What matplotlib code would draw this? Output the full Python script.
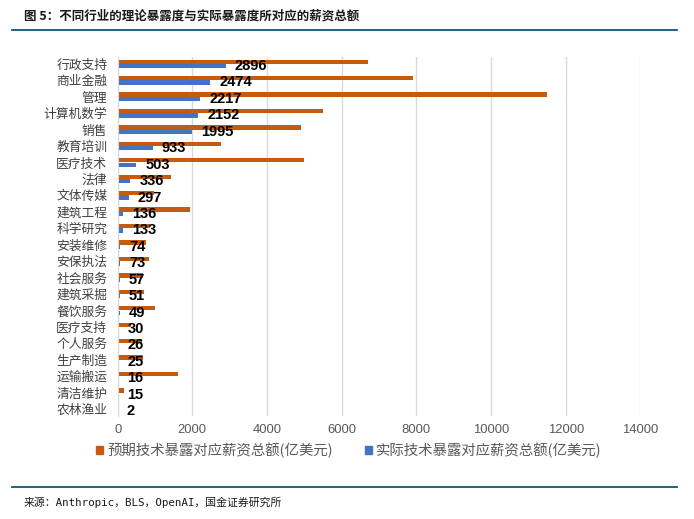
import matplotlib
matplotlib.use("Agg")
import matplotlib.pyplot as plt
from matplotlib.lines import Line2D
from matplotlib.patches import Patch
import numpy as np

plt.rcParams['font.family'] = ['Noto Sans CJK SC', 'DejaVu Sans']

categories = ["行政支持", "商业金融", "管理", "计算机数学", "销售", "教育培训", "医疗技术",
              "法律", "文体传媒", "建筑工程", "科学研究", "安装维修", "安保执法", "社会服务",
              "建筑采掘", "餐饮服务", "医疗支持", "个人服务", "生产制造", "运输搬运",
              "清洁维护", "农林渔业"]
expected = [6700, 7900, 11500, 5500, 4900, 2780, 5000, 1430, 960, 1940, 870, 750, 850, 690,
            715, 1010, 350, 660, 690, 1610, 170, 30]
actual = [2896, 2474, 2217, 2152, 1995, 933, 503, 336, 297, 136, 133, 74, 73, 57,
          51, 49, 30, 26, 25, 16, 15, 2]
xticks = [0, 2000, 4000, 6000, 8000, 10000, 12000, 14000]
legend_labels = ["预期技术暴露对应薪资总额(亿美元)", "实际技术暴露对应薪资总额(亿美元)"]
title = "图 5：不同行业的理论暴露度与实际暴露度所对应的薪资总额"
source = "来源：Anthropic，BLS，OpenAI，国金证券研究所"

ORANGE = "#C55A11"
BLUE = "#4472C4"

W, H = 694, 519
fig = plt.figure(figsize=(W / 100, H / 100), dpi=100)

x0, x1 = 117.7, 640.4
y0, y1 = 57, 416
ax = fig.add_axes([x0 / W, 1 - y1 / H, (x1 - x0) / W, (y1 - y0) / H])

n = len(categories)
pos = np.arange(n)
bh = 0.26
ax.barh(pos - bh / 2 - 0.005, expected, height=bh, color=ORANGE, label=legend_labels[0], zorder=3)
ax.barh(pos + bh / 2 + 0.005, actual, height=bh, color=BLUE, label=legend_labels[1], zorder=3)

for p, v in zip(pos, actual):
    ax.annotate(str(v), xy=(v, p + bh / 2), xytext=(6.5, 0), textcoords='offset points',
                ha='left', va='center', fontsize=10.5, fontweight='bold',
                family=['Liberation Sans', 'DejaVu Sans'], color='black', zorder=5)

ax.set_xlim(0, 14000)
ax.set_ylim(n - 1 + 0.42, -0.42)
ax.set_xticks(xticks)
ax.set_xticklabels([str(t) for t in xticks], family=['Liberation Sans', 'DejaVu Sans'],
                   fontsize=9.4, color='#595959')
ax.set_yticks(pos)
ax.set_yticklabels(categories, fontsize=9.2, color='#404040')
ax.tick_params(axis='both', length=0)
ax.tick_params(axis='y', pad=7.5)
ax.tick_params(axis='x', pad=6)
ax.grid(axis='x', color='#D9D9D9', lw=1, zorder=0)
for s in ['top', 'right', 'bottom']:
    ax.spines[s].set_visible(False)
ax.spines['left'].set_color('#D9D9D9')
ax.spines['left'].set_zorder(4)

handles = [Patch(color=ORANGE), Patch(color=BLUE)]
fig.legend(handles, legend_labels, loc='center', bbox_to_anchor=(349 / W, 1 - 450 / H),
           ncol=2, frameon=False, fontsize=10.4, handlelength=0.5, handleheight=0.5,
           handletextpad=0.3, columnspacing=2.2, labelcolor='#595959')

fig.text(24 / W, 1 - 16 / H, title, fontsize=9.0, fontweight='bold', color='#1a1a1a',
         ha='left', va='center')
fig.add_artist(Line2D([12 / W, 677 / W], [1 - 30 / H, 1 - 30 / H], color='#0F5576', lw=1.3))
fig.add_artist(Line2D([12 / W, 677 / W], [1 - 487 / H, 1 - 487 / H], color='#0F5576', lw=1.3))
fig.text(24 / W, 1 - 502 / H, source, fontsize=7.8, color='#1a1a1a', ha='left', va='center',
         family=['DejaVu Sans Mono', 'Noto Sans CJK SC'])

fig.savefig("out.png", dpi=100)
